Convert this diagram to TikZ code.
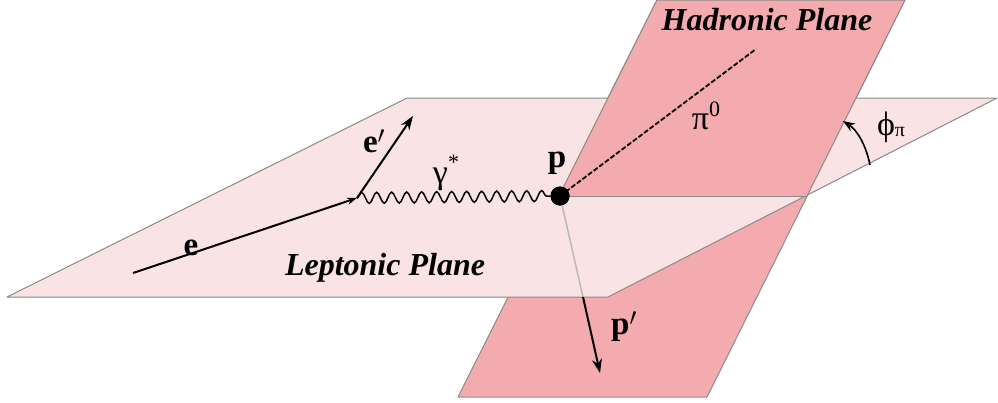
\documentclass[tikz,border=0pt]{standalone}
\usepackage{fontspec}
\setmainfont{Liberation Serif}
\usetikzlibrary{arrows.meta,decorations.pathmorphing}
\definecolor{lepfill}{HTML}{FAE3E5}
\definecolor{hadfill}{HTML}{F4ABAF}
\definecolor{edgegray}{HTML}{8A8A8A}
\tikzset{
  plane/.style={draw=edgegray, line width=1pt, line join=round},
  lbl/.style={inner sep=0pt, font=\fontsize{33}{36}\selectfont\bfseries},
  greek/.style={inner sep=0pt, font=\fontsize{34}{36}\selectfont},
  title/.style={inner sep=0pt, font=\fontsize{32}{36}\selectfont\bfseries\itshape},
  track/.style={line width=2pt, black},
  tip/.style={-{Stealth[length=14pt,width=10pt]}}
}
\begin{document}
\begin{tikzpicture}[x=1pt,y=-1pt]
\useasboundingbox (0,0) rectangle (998,402);
% hadronic plane (full, behind)
\fill[hadfill, plane] (657,0) -- (905,0) -- (707,397) -- (458,397) -- cycle;
% leptonic plane
\fill[lepfill, plane] (7,297) -- (407,98) -- (997,98) -- (608,297) -- cycle;
% hadronic plane upper part (in front)
\fill[hadfill, plane] (559,196) -- (657,0) -- (905,0) -- (807,196);
\draw[edgegray, line width=1pt] (559,196) -- (807,196);
% coordinates
\coordinate (ein) at (133,273);
\coordinate (v) at (357,198);
\coordinate (eout) at (413,116);
\coordinate (pienda) at (756,49);
\coordinate (cross) at (583,297);
\coordinate (pp) at (600,373);
\coordinate (arcA) at (870,165);
\coordinate (arcB) at (843,121);
\node[circle, fill=black, minimum size=19pt, inner sep=0pt] (p) at (560,196) {};
% p' behind plane (gray) and in front (black)
\draw[gray!55, line width=1.5pt] (p.center) -- (cross);
\draw[track, tip] (cross) -- (pp);
% electron lines
\draw[track, -{Stealth[length=10pt,width=7pt]}] (ein) -- (v);
\draw[track, tip] (v) -- (eout);
% photon
\draw[line width=1.5pt, decorate, decoration={snake, segment length=15pt, amplitude=5.5pt}] (v) -- (p.west);
% pi0
\draw[line width=1.8pt, dashed, dash pattern=on 5pt off 2pt] (p.center) -- (pienda);
% phi arc
\draw[line width=1.6pt, -{Stealth[length=12pt,width=9pt]}] (arcA) .. controls (866,145) and (857,130) .. (arcB);
\node[circle, fill=black, minimum size=19pt, inner sep=0pt] (pdot) at (560,196) {};
% labels
\node[lbl] (le) at (191,248) {e};
\node[lbl] (lep) at (374,141) {e$'$};
\node[greek] (lgam) at (446,173) {γ\raisebox{0.4em}{\fontsize{22}{22}\selectfont *}};
\node[lbl] (lp) at (557,163) {p};
\node[lbl] (lpp) at (624,327) {p$'$};
\node[greek] (lpi) at (706,116) {π\raisebox{0.4em}{\fontsize{22}{22}\selectfont 0}};
\node[greek] (lphi) at (891,127) {ϕ\raisebox{-0.05em}{\fontsize{20}{20}\selectfont π}};
\node[title] (tlep) at (385,268) {Leptonic Plane};
\node[title] (thad) at (767,20) {Hadronic Plane};
\end{tikzpicture}
\end{document}
